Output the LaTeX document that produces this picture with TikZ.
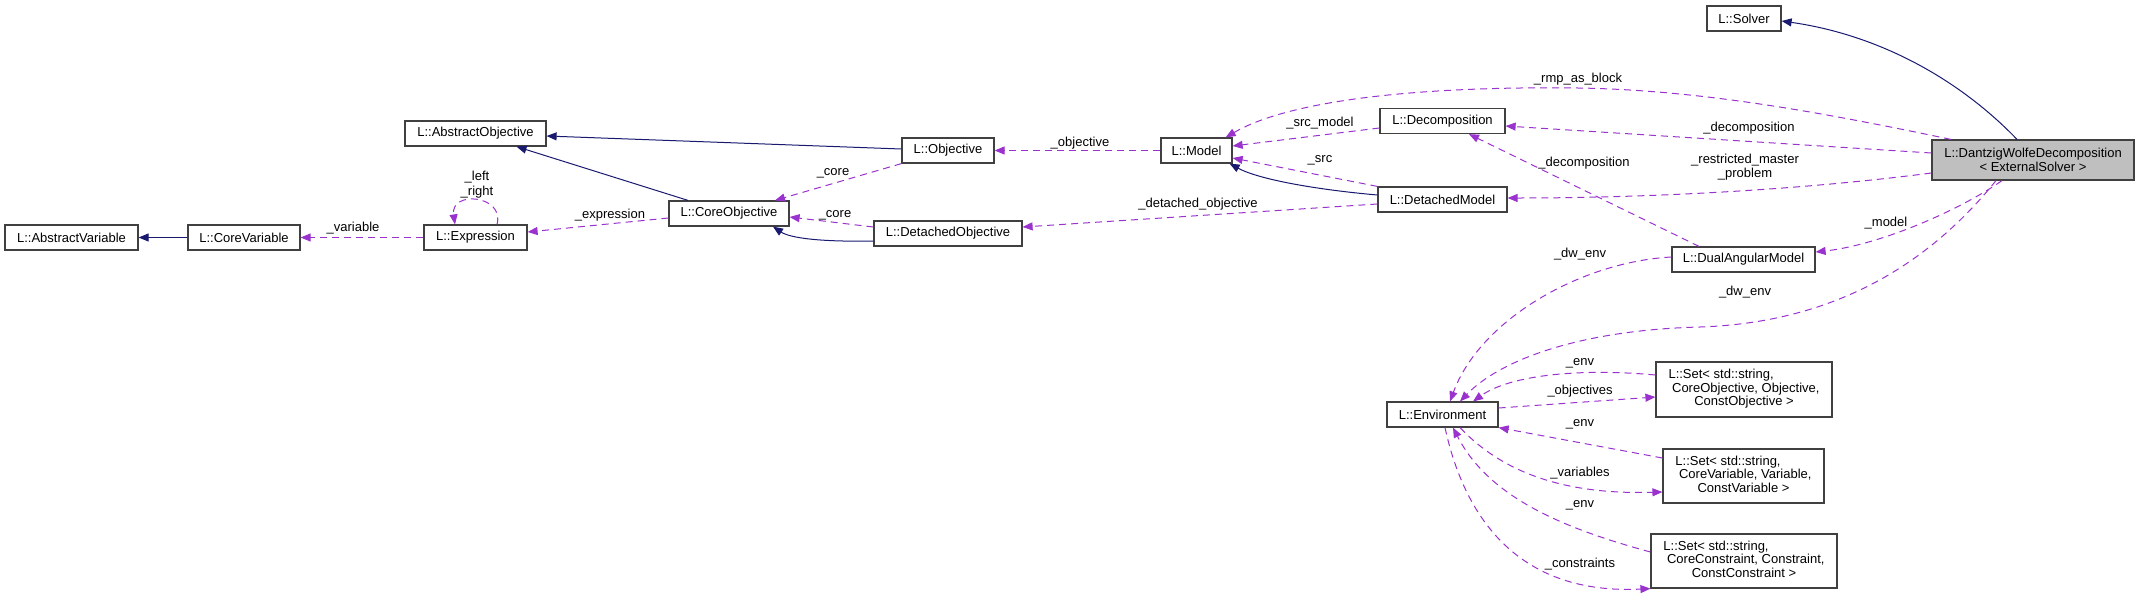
\documentclass[tikz,border=0pt]{standalone}
\usepackage{fontspec}
\setmainfont{Liberation Sans}
\usetikzlibrary{arrows.meta}
\definecolor{depcol}{HTML}{9A32CD}
\definecolor{inhcol}{HTML}{191970}
\definecolor{bordcol}{HTML}{404040}
\definecolor{dwfill}{HTML}{BFBFBF}
\newcommand\setlbl[3]{\renewcommand\arraystretch{0.9}\begin{tabular}{@{}l@{}}#1\\\ #2\\\multicolumn{1}{@{}c@{}}{#3}\end{tabular}}
\begin{document}
\begin{tikzpicture}[x=1pt,y=-1pt,
  every node/.style={font=\fontsize{13}{14.5}\selectfont},
  cls/.style={draw=bordcol, line width=1.2pt, inner sep=0pt, fill=white, align=center, minimum height=25pt},
  lbl/.style={inner sep=0pt, align=center},
  depedge/.style={draw=depcol, line width=1pt, dash pattern=on 7pt off 5pt, -{Triangle[length=10pt,width=8pt,fill=depcol]}},
  inhedge/.style={draw=inhcol, line width=1pt, -{Triangle[length=10pt,width=8pt,fill=inhcol]}}]
\useasboundingbox (0,0) rectangle (2140,597);
% classes
\node[cls,minimum width=133pt] (absvar) at (71.5,237.5) {L::AbstractVariable};
\node[cls,minimum width=112pt] (corevar) at (244,237.5) {L::CoreVariable};
\node[cls,minimum width=103pt] (expr) at (475.5,237.5) {L::Expression};
\node[cls,minimum width=141pt] (absobj) at (475.5,133.5) {L::AbstractObjective};
\node[cls,minimum width=120pt] (coreobj) at (729,213.5) {L::CoreObjective};
\node[cls,minimum width=92pt] (obj) at (948,150.5) {L::Objective};
\node[cls,minimum width=148pt] (detobj) at (948,233.5) {L::DetachedObjective};
\node[cls,minimum width=71pt] (model) at (1196.5,150.5) {L::Model};
\node[cls,minimum width=125pt] (decomp) at (1442.5,121) {L::Decomposition};
\node[cls,minimum width=129pt] (detmodel) at (1442.5,199.5) {L::DetachedModel};
\node[cls,minimum width=74pt] (solver) at (1744,18.5) {L::Solver};
\node[cls,fill=dwfill,minimum width=202pt,minimum height=40pt] (dw) at (2033,160) {L::DantzigWolfeDecomposition\\{}< ExternalSolver >};
\node[cls,minimum width=143pt] (dam) at (1743.5,259.5) {L::DualAngularModel};
\node[cls,minimum width=111pt] (env) at (1442.5,414.5) {L::Environment};
\node[cls,minimum width=176pt,minimum height=55pt] (setobj) at (1744,389.5) {\setlbl{L::Set< std::string,}{CoreObjective, Objective,}{ConstObjective >}};
\node[cls,minimum width=161pt,minimum height=54pt] (setvar) at (1743.5,476) {\setlbl{L::Set< std::string,}{CoreVariable, Variable,}{ConstVariable >}};
\node[cls,minimum width=186pt,minimum height=54pt] (setcon) at (1744,561) {\setlbl{L::Set< std::string,}{CoreConstraint, Constraint,}{ConstConstraint >}};
% inheritance
\draw[inhedge] (corevar.west) -- (absvar.east);
\draw[inhedge] ([xshift=-41pt]coreobj.north) -- ([xshift=41pt]absobj.south);
\draw[inhedge] ([yshift=1.5pt]obj.west) -- ([yshift=-2.5pt]absobj.east);
\draw[inhedge] ([yshift=-7.5pt]detobj.west) .. controls (820,242) and (790,238) .. ([xshift=44pt]coreobj.south);
\draw[inhedge] ([yshift=4.5pt]detmodel.west) .. controls (1320,190) and (1260,180) .. ([xshift=-3pt]model.south east);
\draw[inhedge] ([xshift=-16pt]dw.north) .. controls (1960,80) and (1880,35) .. ([yshift=-2.5pt]solver.east);
% usage
\draw[depedge] (expr.west) -- (corevar.east);
\node[lbl] (lvar) at (353,228) {\_variable};
\draw[depedge] ([xshift=21.5pt]expr.north) .. controls (505,195) and (450,190) .. ([xshift=-20.5pt]expr.north);
\node[lbl] (lleft) at (477,184.5) {\_left\\\_right};
\draw[depedge] ([yshift=-4.5pt]coreobj.west) -- ([yshift=5.5pt]expr.east);
\node[lbl] (lexpr) at (610,215) {\_expression};
\draw[depedge] (obj.south west) -- ([xshift=46pt]coreobj.north);
\node[lbl] (lcore1) at (833,173) {\_core};
\draw[depedge] ([yshift=6.5pt]detobj.west) -- ([yshift=-3.5pt]coreobj.east);
\node[lbl] (lcore2) at (835,215) {\_core};
\draw[depedge] (model.west) -- (obj.east);
\node[lbl] (lobj) at (1080,143) {\_objective};
\draw[depedge] ([yshift=-4.5pt]detmodel.west) -- ([yshift=6.5pt]detobj.east);
\node[lbl] (ldetobj) at (1198,204) {\_detached\_objective};
\draw[depedge] ([yshift=-7pt]decomp.west) -- ([yshift=4.5pt]model.east);
\node[lbl] (lsrcm) at (1320,123) {\_src\_model};
\draw[depedge] (detmodel.north west) -- ([yshift=-7.5pt]model.east);
\node[lbl] (lsrc) at (1320,160) {\_src};
\draw[depedge] ([xshift=-82pt]dw.north) .. controls (1820,112) and (1700,90) .. (1578,88) .. controls (1420,86) and (1290,100) .. ([xshift=-7pt]model.north east);
\node[lbl] (lrmp) at (1578,79) {\_rmp\_as\_block};
\draw[depedge] ([yshift=7pt]dw.west) -- ([yshift=-5pt]decomp.east);
\node[lbl] (ldec1) at (1749,128) {\_decomposition};
\draw[depedge] ([yshift=-13pt]dw.west) .. controls (1800,190) and (1650,198) .. ([yshift=1.5pt]detmodel.east);
\node[lbl] (lrestr) at (1745,167) {\_restricted\_master\\\_problem};
\draw[depedge] ([xshift=-44.5pt]dam.north) -- ([xshift=26.5pt]decomp.south);
\node[lbl] (ldec2) at (1584,163) {\_decomposition};
\draw[depedge] ([xshift=-31pt]dw.south) .. controls (1960,210) and (1880,245) .. ([yshift=7.5pt]dam.east);
\node[lbl] (lmodel) at (1886,223) {\_model};
\draw[depedge] ([xshift=-37pt]dw.south) .. controls (1940,250) and (1850,322) .. (1700,327) .. controls (1580,330) and (1500,360) .. ([xshift=17.5pt]env.north);
\node[lbl] (ldw2) at (1745,292) {\_dw\_env};
\draw[depedge] ([yshift=2.5pt]dam.west) .. controls (1580,262) and (1480,320) .. ([xshift=7.5pt]env.north);
\node[lbl] (ldw1) at (1580,254) {\_dw\_env};
\draw[depedge] ([yshift=14.5pt]setobj.west) .. controls (1580,368) and (1510,375) .. ([xshift=30.5pt]env.north);
\node[lbl] (lenv1) at (1580,363) {\_env};
\draw[depedge] ([yshift=6.5pt]env.east) -- ([yshift=-7.5pt]setobj.west);
\node[lbl] (lobjs) at (1580,391) {\_objectives};
\draw[depedge] ([yshift=18pt]setvar.west) -- (env.south east);
\node[lbl] (lenv2) at (1580,424) {\_env};
\draw[depedge] ([xshift=17.5pt]env.south) .. controls (1500,470) and (1560,495) .. ([yshift=-16pt]setvar.west);
\node[lbl] (lvars) at (1580,473) {\_variables};
\draw[depedge] ([yshift=9pt]setcon.west) .. controls (1570,530) and (1490,500) .. ([xshift=10.5pt]env.south);
\node[lbl] (lenv3) at (1580,505) {\_env};
\draw[depedge] ([xshift=2.5pt]env.south) .. controls (1465,520) and (1520,595) .. (setcon.south west);
\node[lbl] (lcons) at (1580,564) {\_constraints};
\end{tikzpicture}
\end{document}
